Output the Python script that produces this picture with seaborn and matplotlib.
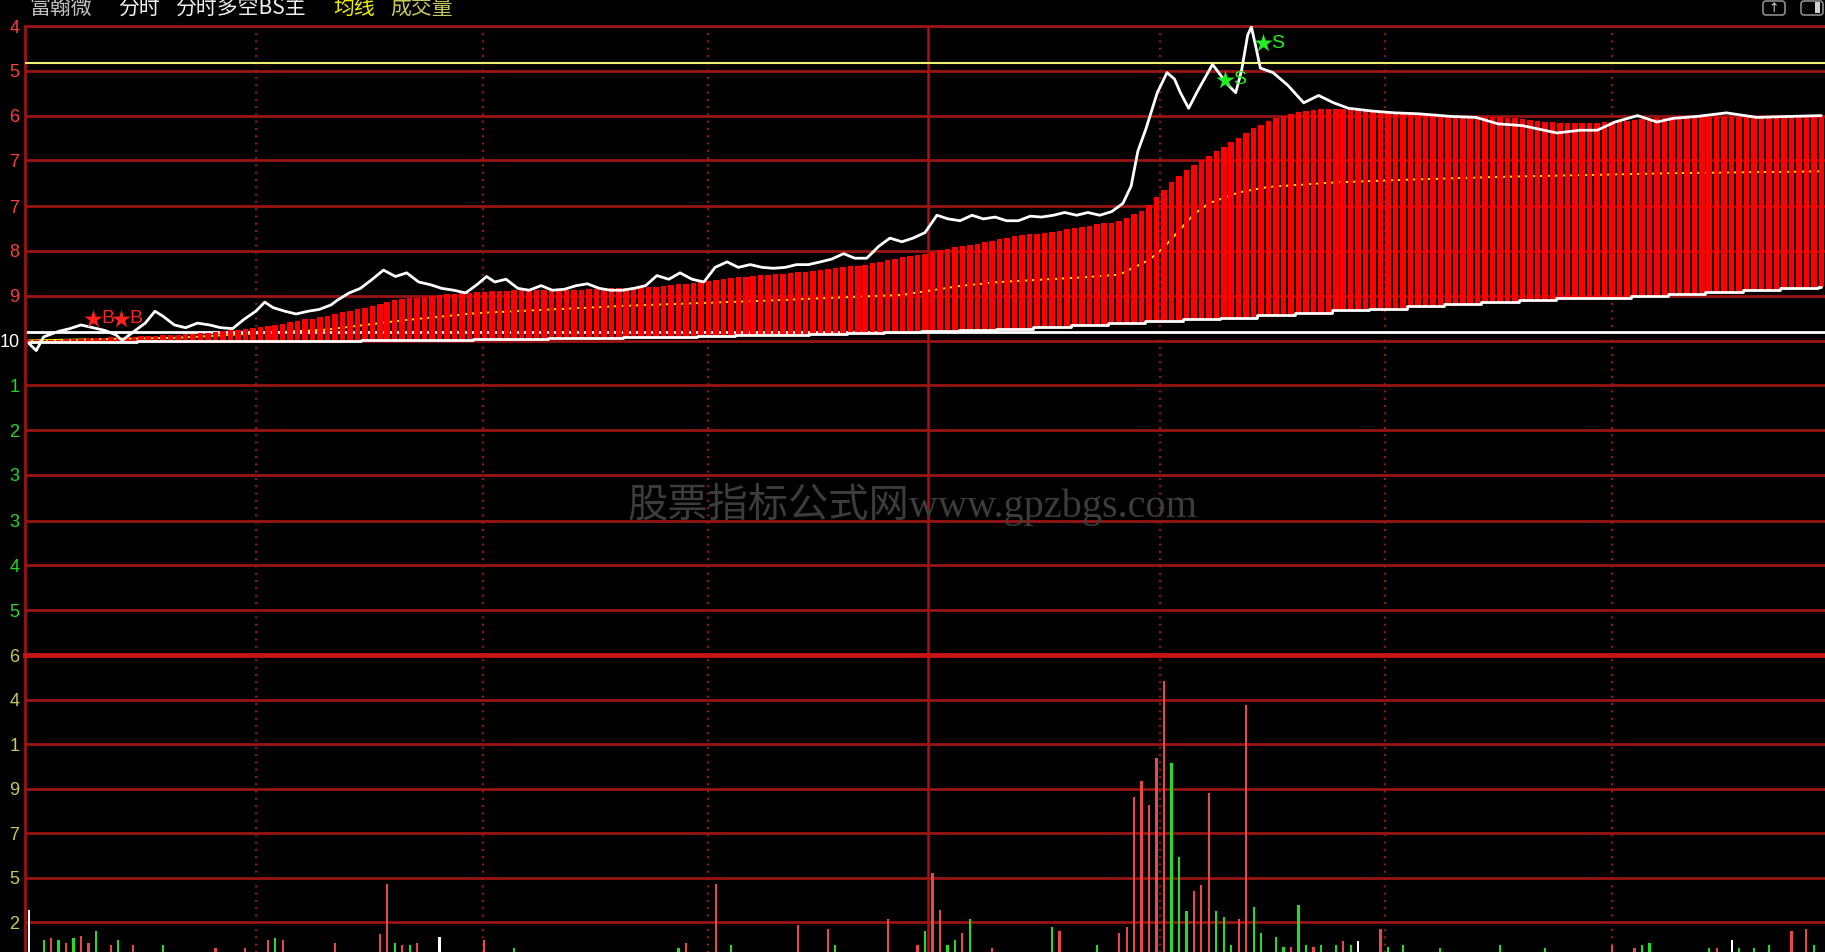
import numpy as np
import pandas as pd
import matplotlib
matplotlib.use("Agg")
import matplotlib.pyplot as plt
from matplotlib.patches import FancyBboxPatch, Rectangle
import seaborn as sns

# price axis levels (14 equal steps around the previous close 24.10)
price_levels = [20.66, 21.15, 21.64, 22.13, 22.63, 23.12, 23.61, 24.10,
                24.59, 25.08, 25.57, 26.07, 26.56, 27.05, 27.54]
# only the right-most digits of the price scale are visible on screen
price_labels = ["6", "5", "4", "3", "3", "2", "1", "10",
                "9", "8", "7", "7", "6", "5", "4"]
prev_close = 24.10

# volume axis levels
vol_levels = [1232, 2465, 3697, 4929, 6161, 7394, 8626]
vol_labels = ["2", "5", "7", "9", "1", "4", "6"]

# minute price line (vertices, minute index 0..240)
price_min = [0, 1, 2, 4, 5.5, 7, 8.6, 10.2, 11.7, 12.5, 14.1, 15.6, 16.9, 17.9, 19.5, 21, 22.6,
             24.2, 25.7, 27.3, 28.8, 30.4, 31.6, 32.7, 34.3, 35.8, 37.4, 38.9, 40.5, 41.3, 42.9,
             44.4, 46, 47.5, 49.1, 50.6, 52.2, 53.8, 55.3, 56.9, 58.5, 60, 61.3, 62.4, 63.9, 65.5,
             67, 68.6, 70.1, 71.7, 73.3, 74.8, 76.4, 77.9, 79.5, 81, 82.6, 84.1, 85.7, 87.2, 88.8,
             90.4, 91.9, 93.5, 95, 96.6, 98.2, 99.7, 101.3, 102.8, 104.4, 106, 107.5, 109.1, 110.6,
             112.2, 113.8, 115.3, 116.9, 118.4, 120, 121.6, 123.1, 124.7, 126.3, 127.8, 129.4,
             130.9, 132.5, 134.1, 135.6, 137.2, 138.7, 140.3, 141.8, 143.4, 145, 146.5, 147.6,
             148.5, 149.6, 151.1, 152.4, 153.4, 154.2, 155.3, 156.5, 157.8, 158.5, 159.6, 160.4,
             161.6, 162.4, 163.2, 163.7, 164.3, 164.9, 166.6, 168.6, 170.7, 172.7, 174.7, 176.7,
             179.8, 182.9, 186, 190.6, 193.8, 196.7, 200, 204.6, 207.7, 210, 212.4, 215.4, 218,
             220.2, 223.3, 227.3, 231.4, 235.4, 240]
price_val = [24.07, 23.99, 24.14, 24.20, 24.23, 24.27, 24.24, 24.21, 24.16, 24.10, 24.20, 24.29,
             24.42, 24.37, 24.27, 24.24, 24.29, 24.27, 24.24, 24.23, 24.33, 24.42, 24.52, 24.46,
             24.42, 24.39, 24.42, 24.44, 24.49, 24.54, 24.62, 24.67, 24.77, 24.87, 24.80, 24.84,
             24.74, 24.71, 24.67, 24.65, 24.62, 24.71, 24.80, 24.74, 24.77, 24.67, 24.65, 24.70,
             24.65, 24.66, 24.70, 24.72, 24.67, 24.65, 24.65, 24.67, 24.70, 24.81, 24.77, 24.84,
             24.77, 24.74, 24.90, 24.96, 24.90, 24.93, 24.90, 24.89, 24.90, 24.93, 24.93, 24.96,
             24.99, 25.05, 25.00, 25.00, 25.13, 25.22, 25.18, 25.22, 25.28, 25.47, 25.43, 25.41,
             25.47, 25.43, 25.45, 25.41, 25.41, 25.46, 25.45, 25.47, 25.50, 25.47, 25.50, 25.47,
             25.51, 25.60, 25.79, 26.17, 26.42, 26.81, 27.03, 26.96, 26.81, 26.64, 26.83, 27.02,
             27.12, 27.00, 26.91, 26.81, 27.06, 27.44, 27.53, 27.31, 27.08, 27.03, 26.89, 26.70,
             26.78, 26.70, 26.64, 26.61, 26.59, 26.58, 26.55, 26.54, 26.47, 26.45, 26.37, 26.40,
             26.40, 26.49, 26.56, 26.49, 26.53, 26.55, 26.59, 26.54, 26.55, 26.56]

# average price line (drawn behind the bars)
avg_min = [0, 20, 40, 50, 60, 80, 100, 117, 125, 130, 141, 146, 150, 152, 154, 156, 158, 162,
           166, 175, 185, 197, 220, 240]
avg_val = [24.10, 24.13, 24.22, 24.32, 24.40, 24.48, 24.54, 24.60, 24.70, 24.74, 24.79, 24.82,
           24.98, 25.12, 25.30, 25.48, 25.60, 25.72, 25.78, 25.83, 25.86, 25.89, 25.93, 25.95]

# BS indicator bars: top of each minute bar
bar_top = [
    24.10, 24.10, 24.11, 24.11, 24.11, 24.12, 24.12, 24.12, 24.13, 24.13,
    24.13, 24.14, 24.14, 24.14, 24.14, 24.15, 24.15, 24.15, 24.16, 24.16,
    24.16, 24.17, 24.17, 24.18, 24.18, 24.19, 24.20, 24.21, 24.22, 24.23,
    24.24, 24.25, 24.26, 24.27, 24.28, 24.30, 24.31, 24.33, 24.34, 24.36,
    24.37, 24.39, 24.41, 24.42, 24.44, 24.46, 24.48, 24.50, 24.52, 24.54,
    24.55, 24.56, 24.57, 24.58, 24.59, 24.60, 24.61, 24.61, 24.62, 24.62,
    24.63, 24.63, 24.64, 24.64, 24.64, 24.65, 24.65, 24.65, 24.65, 24.65,
    24.65, 24.65, 24.65, 24.65, 24.65, 24.66, 24.66, 24.66, 24.67, 24.67,
    24.67, 24.68, 24.68, 24.69, 24.69, 24.70, 24.71, 24.72, 24.72, 24.73,
    24.74, 24.75, 24.76, 24.77, 24.78, 24.79, 24.80, 24.81, 24.82, 24.82,
    24.83, 24.83, 24.84, 24.85, 24.85, 24.86, 24.87, 24.88, 24.89, 24.90,
    24.91, 24.92, 24.93, 24.95, 24.96, 24.98, 24.99, 25.01, 25.02, 25.04,
    25.05, 25.07, 25.09, 25.10, 25.12, 25.13, 25.15, 25.16, 25.18, 25.19,
    25.21, 25.22, 25.24, 25.25, 25.26, 25.27, 25.28, 25.29, 25.30, 25.32,
    25.33, 25.34, 25.35, 25.37, 25.38, 25.39, 25.41, 25.44, 25.48, 25.52,
    25.58, 25.67, 25.75, 25.83, 25.90, 25.96, 26.02, 26.07, 26.12, 26.17,
    26.22, 26.27, 26.32, 26.37, 26.42, 26.46, 26.50, 26.53, 26.56, 26.58,
    26.60, 26.61, 26.62, 26.63, 26.63, 26.63, 26.63, 26.63, 26.62, 26.62,
    26.61, 26.61, 26.60, 26.60, 26.59, 26.59, 26.58, 26.58, 26.57, 26.57,
    26.56, 26.56, 26.56, 26.55, 26.55, 26.55, 26.54, 26.54, 26.53, 26.53,
    26.52, 26.51, 26.50, 26.49, 26.49, 26.48, 26.48, 26.48, 26.48, 26.48,
    26.48, 26.49, 26.49, 26.50, 26.50, 26.51, 26.52, 26.52, 26.53, 26.53,
    26.54, 26.54, 26.54, 26.55, 26.55, 26.55, 26.55, 26.55, 26.55, 26.55,
    26.55, 26.55, 26.55, 26.55, 26.56, 26.56, 26.56, 26.56, 26.56, 26.56, 26.56]

# bar bottom, one level per 5-minute block (last block is the closing minute)
bottom_blocks = [24.08, 24.08, 24.08, 24.09, 24.09, 24.09, 24.10, 24.10, 24.10, 24.11,
                 24.11, 24.11, 24.12, 24.12, 24.13, 24.13, 24.14, 24.14, 24.15, 24.16,
                 24.16, 24.17, 24.18, 24.19, 24.20, 24.22, 24.23, 24.25, 24.27, 24.29,
                 24.31, 24.33, 24.35, 24.38, 24.40, 24.43, 24.45, 24.48, 24.50, 24.52,
                 24.54, 24.56, 24.57, 24.59, 24.61, 24.63, 24.65, 24.67, 24.68]

line_open = 24.19      # white reference line
line_high = 27.14      # yellow reference line

# buy / sell signals
buy_min = [8.6, 12.4]
buy_val = [24.34, 24.34]
sell_min = [160.1, 165.2]
sell_val = [26.95, 27.35]

# volume bars (minute, volume, colour class)
vol_min = [0, 2, 3, 4, 5, 6, 7, 8, 9, 11, 12, 14, 18, 25, 29, 32, 33, 34, 41, 47, 48, 49, 50,
           51, 52, 55, 61, 65, 87, 88, 92, 94, 103, 107, 108, 115, 119, 120, 121, 122, 123,
           124, 125, 126, 129, 137, 138, 143, 146, 147, 148, 149, 150, 151, 152, 153, 154,
           155, 156, 157, 158, 159, 160, 161, 162, 163, 164, 165, 167, 168, 169, 170, 171,
           172, 173, 175, 176, 177, 178, 181, 182, 184, 189, 197, 203, 212, 215, 216, 217,
           225, 226, 228, 229, 231, 233, 236, 238, 239]
vol_val = [1578, 741, 805, 741, 676, 805, 869, 676, 998, 612, 741, 612, 612, 515, 515, 741, 805,
           741, 676, 902, 2286, 676, 612, 612, 676, 837, 741, 515, 515, 676, 2286, 612, 1159,
           1063, 612, 1320, 612, 998, 2608, 1578, 612, 741, 934, 1320, 515, 1095, 998, 612,
           939, 1105, 4697, 5139, 4476, 5775, 7902, 5637, 3039, 1547, 2100, 2266, 4808, 1547,
           1382, 608, 1326, 7239, 1658, 939, 829, 553, 553, 1713, 608, 553, 608, 608, 718, 608,
           718, 1050, 553, 612, 515, 612, 515, 612, 515, 612, 676, 515, 515, 741, 515, 515,
           612, 998, 1063, 612]
vol_kind = ["w", "g", "r", "g", "r", "g", "r", "r", "g", "r", "g", "r", "g", "r", "r", "r", "g",
            "r", "r", "r", "r", "g", "r", "g", "r", "w", "r", "g", "g", "r", "r", "g", "r", "r",
            "g", "r", "r", "g", "r", "r", "g", "g", "r", "g", "r", "g", "r", "g", "r", "r", "r",
            "r", "r", "r", "r", "g", "g", "g", "r", "r", "r", "g", "g", "g", "r", "r", "g", "g",
            "g", "g", "r", "g", "g", "r", "g", "g", "r", "g", "w", "r", "g", "g", "g", "g", "g",
            "r", "r", "g", "g", "g", "r", "w", "g", "g", "g", "r", "r", "g"]

# half-hour marks as they fall on the minute scale of the screen
half_hours = [30.4, 60.8, 90.9, 151.5, 181.6, 212.0]
noon = 120.4

# colours
BG = "#000000"
GRID = "#9a1414"
BAR_RED = "#ff0000"
UP = "#ff3c3c"
DOWN = "#22d822"
VOL_YEL = "#c8c85a"

sns.set_theme(style="dark", rc={"axes.facecolor": BG, "figure.facecolor": BG,
                                "savefig.facecolor": BG})
plt.rcParams["font.family"] = ["Liberation Sans", "DejaVu Sans"]

W, H = 1825, 952
fig = plt.figure(figsize=(W / 100, H / 100), dpi=100)
ax = fig.add_axes([25 / W, 1 - 655 / H, 1 - 25 / W, (655 - 26) / H])
axv = fig.add_axes([25 / W, 1 - 967 / H, 1 - 25 / W, (967 - 655) / H])

# ---- price panel ----
minutes = np.arange(len(bar_top))
bottoms = np.repeat(bottom_blocks, 5)[:len(bar_top)]
tops = np.array(bar_top)

sns.lineplot(x=avg_min, y=avg_val, color="#e8e800", lw=1.5, ax=ax, zorder=1)
ax.axhline(line_open, color="white", lw=2, zorder=1)
ax.bar(minutes, tops - bottoms, bottom=bottoms, width=0.74, color=BAR_RED,
       edgecolor="none", zorder=2)
sns.lineplot(x=minutes, y=bottoms, color="white", lw=2, drawstyle="steps-mid",
             ax=ax, zorder=3)
ax.axhline(line_high, color="#f0f070", lw=1.5, zorder=3)
sns.lineplot(x=price_min, y=price_val, color="white", lw=2, ax=ax, zorder=4, sort=False)

ax.scatter(buy_min, buy_val, marker="*", s=190, color="#ff2020", zorder=5, linewidths=0)
for m, v in zip(buy_min, buy_val):
    ax.text(m + 1.1, v, "B", color="#ff2020", fontsize=14, va="center", ha="left", zorder=5)
ax.scatter(sell_min, sell_val, marker="*", s=190, color="#22ee22", zorder=5, linewidths=0)
for m, v in zip(sell_min, sell_val):
    ax.text(m + 1.1, v, "S", color="#22ee22", fontsize=14, va="center", ha="left", zorder=5)

ax.set_xlim(-0.5, 240.5)
ax.set_ylim(price_levels[0], price_levels[-1])
ax.set_yticks(price_levels[1:], price_labels[1:])
ax.set_xticks(half_hours, [""] * len(half_hours))
ax.yaxis.grid(True, color=GRID, lw=2)
ax.xaxis.grid(True, color=GRID, lw=1.5, linestyle=(0, (1, 2.5)))
ax.set_axisbelow(True)
ax.axvline(noon, color="#b01010", lw=1.8, zorder=0.5)
ax.tick_params(axis="y", length=0, pad=4, labelsize=13)
ax.tick_params(axis="x", length=0)
for lab, lv in zip(ax.get_yticklabels(), price_levels[1:]):
    if lv > prev_close:
        lab.set_color(UP)
    elif lv < prev_close:
        lab.set_color(DOWN)
    else:
        lab.set_color("white")
for side in ["right", "bottom"]:
    ax.spines[side].set_visible(False)
for side in ["left", "top"]:
    ax.spines[side].set_color(GRID)
    ax.spines[side].set_linewidth(2)
ax.set_xlabel("")
ax.set_ylabel("")

# watermark
fig.text(0.5, 1 - 504 / H, "股票指标公式网www.gpzbgs.com",
         ha="center", va="center", fontsize=29, color="#3c3c3c",
         family=["Liberation Serif", "Noto Sans CJK SC"], zorder=6)

# ---- volume panel ----
vdf = pd.DataFrame({"minute": vol_min, "volume": vol_val, "kind": vol_kind})
sns.barplot(data=vdf, x="minute", y="volume", hue="kind", native_scale=True,
            palette={"r": "#e84848", "g": "#22dd22", "w": "#ffffff"}, saturation=1,
            width=0.3, dodge=False, errorbar=None, legend=False, ax=axv, zorder=2,
            linewidth=0, edgecolor="none")
axv.set_xlim(-0.5, 240.5)
axv.set_ylim(0, vol_levels[-1])
axv.set_yticks(vol_levels, vol_labels)
axv.set_xticks(half_hours, [""] * len(half_hours))
axv.yaxis.grid(True, color=GRID, lw=2)
axv.xaxis.grid(True, color=GRID, lw=1.5, linestyle=(0, (1, 2.5)))
axv.set_axisbelow(True)
axv.axvline(noon, color="#b01010", lw=1.8, zorder=0.5)
axv.tick_params(axis="y", length=0, pad=4, labelsize=13, labelcolor=VOL_YEL)
axv.tick_params(axis="x", length=0)
for side in ["right", "bottom"]:
    axv.spines[side].set_visible(False)
axv.spines["left"].set_color(GRID)
axv.spines["left"].set_linewidth(2)
axv.spines["top"].set_color("#c81414")
axv.spines["top"].set_linewidth(3.5)
axv.set_xlabel("")
axv.set_ylabel("")

# ---- header ----
hdr = [(29, "富翰微", "#c0c0c0"), (118, "分时", "#f0f0f0"), (175, "分时多空BS主", "#f0f0f0"),
       (333, "均线", "#f0f000"), (390, "成交量", "#c8c85a")]
for xp, txt, col in hdr:
    fig.text(xp / W, 1 - 8 / H, txt, color=col, fontsize=15, ha="left", va="center",
             family=["Noto Sans CJK SC", "DejaVu Sans"])

# window buttons in the top-right corner (display pixels, origin bottom-left)
for x0 in [1763, 1801]:
    fig.add_artist(FancyBboxPatch((x0, H - 15), 22, 14, boxstyle="round,pad=0,rounding_size=3",
                                  transform=None, facecolor="none", edgecolor="#8c8c8c", lw=1.2))
fig.add_artist(Rectangle((1815, H - 13), 5, 11, transform=None, facecolor="#d0d0d0",
                         edgecolor="none"))
fig.text(1774 / W, 1 - 8 / H, "↑", color="#d0d0d0", fontsize=9, ha="center", va="center",
         family=["DejaVu Sans"])

fig.savefig("out.png", dpi=100)
